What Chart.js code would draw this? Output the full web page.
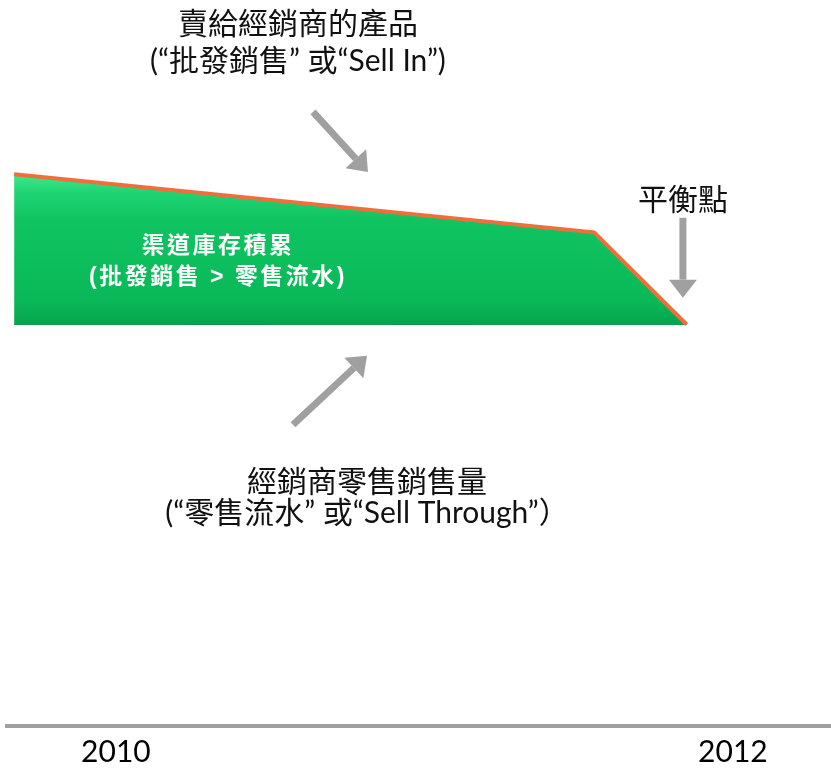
<!DOCTYPE html>
<html lang="zh-Hant">
<head>
  <meta charset="UTF-8">
  <title>渠道庫存積累</title>
  <script src="https://cdn.jsdelivr.net/npm/chart.js"></script>
  <style>
    body { margin: 0; background: #fff; }
    #wrap { width: 831px; height: 770px; position: relative; }
  </style>
</head>
<body>
  <div id="wrap"><canvas id="inventoryChart"></canvas></div>

  <script>
    // 時間軸 (年) と各系列の値
    const periods = [2009.67, 2011.55, 2011.85];
    const sellIn = [76.0, 68.0, 55.3];        // 批發銷售 (Sell In)
    const sellThrough = [55.3, 55.3, 55.3];   // 零售流水 (Sell Through)
    const tickValues = [2010, 2012];
    const tickLabels = ['2010', '2012'];

    const CJK = "'Noto Sans CJK TC', 'Noto Sans CJK JP', sans-serif";
    const LATIN_CJK = "Lato, 'Noto Sans CJK TC', sans-serif";
    const BOLD_CJK = "'Liberation Sans', 'Noto Sans CJK TC', sans-serif";

    // 注釈 (データ座標)
    const arrows = [
      { from: [2010.639, 84.6], to: [2010.817, 76.3] },
      { from: [2010.574, 41.5], to: [2010.814, 51.0] },
      { from: [2011.838, 70.0], to: [2011.838, 59.0] }
    ];
    const notes = [
      { at: [2010.590, 96.6], lines: ['賣給經銷商的產品', '(“批發銷售” 或“Sell In”)'], gap: 37, color: '#111', font: '30px ' + LATIN_CJK },
      { at: [2010.814, 33.5], lines: ['經銷商零售銷售量', '(“零售流水” 或“Sell Through”）'], gap: 31, color: '#111', font: '30px ' + LATIN_CJK },
      { at: [2011.838, 72.7], lines: ['平衡點'], gap: 0, color: '#111', font: '30px ' + CJK },
      { at: [2010.331, 66.0], lines: ['渠道庫存積累', '(批發銷售 > 零售流水)'], gap: 31, color: '#fff', font: 'bold 23px ' + BOLD_CJK, spacing: '2.5px' }
    ];

    // 矢印と文字を描くプラグイン
    const notePlugin = {
      id: 'notes',
      afterDatasetsDraw(chart) {
        const { ctx, scales: { x, y } } = chart;
        ctx.save();
        arrows.forEach(a => {
          const x1 = x.getPixelForValue(a.from[0]), y1 = y.getPixelForValue(a.from[1]);
          const x2 = x.getPixelForValue(a.to[0]), y2 = y.getPixelForValue(a.to[1]);
          const ang = Math.atan2(y2 - y1, x2 - x1);
          const headLen = 18, headW = 14;
          const bx = x2 - headLen * Math.cos(ang), by = y2 - headLen * Math.sin(ang);
          ctx.strokeStyle = '#a0a0a0';
          ctx.fillStyle = '#a0a0a0';
          ctx.lineWidth = 7;
          ctx.beginPath();
          ctx.moveTo(x1, y1);
          ctx.lineTo(bx, by);
          ctx.stroke();
          ctx.beginPath();
          ctx.moveTo(x2, y2);
          ctx.lineTo(bx + headW * Math.sin(ang), by - headW * Math.cos(ang));
          ctx.lineTo(bx - headW * Math.sin(ang), by + headW * Math.cos(ang));
          ctx.closePath();
          ctx.fill();
        });
        notes.forEach(n => {
          const cx = x.getPixelForValue(n.at[0]);
          const cy = y.getPixelForValue(n.at[1]);
          ctx.font = n.font;
          ctx.fillStyle = n.color;
          ctx.textAlign = 'center';
          ctx.textBaseline = 'middle';
          ctx.letterSpacing = n.spacing || '0px';
          n.lines.forEach((line, i) => ctx.fillText(line, cx, cy + i * n.gap));
        });
        ctx.restore();
      }
    };

    function greenFill(context) {
      const chart = context.chart;
      if (!chart.chartArea) return '#0cbb5a';
      const yS = chart.scales.y;
      const top = yS.getPixelForValue(Math.max(...sellIn));
      const bottom = yS.getPixelForValue(sellThrough[0]);
      const g = chart.ctx.createLinearGradient(0, top, 0, bottom);
      g.addColorStop(0, '#3de88c');
      g.addColorStop(0.12, '#1fd472');
      g.addColorStop(0.3, '#10c462');
      g.addColorStop(0.85, '#0ab858');
      g.addColorStop(1, '#07a24c');
      return g;
    }

    const ctx = document.getElementById('inventoryChart').getContext('2d');
    new Chart(ctx, {
      type: 'line',
      data: {
        datasets: [
          {
            label: '批發銷售',
            data: periods.map((p, i) => ({ x: p, y: sellIn[i] })),
            borderColor: '#ef6f3c',
            borderWidth: 4,
            backgroundColor: greenFill,
            fill: '+1',
            pointRadius: 0,
            tension: 0
          },
          {
            label: '零售流水',
            data: periods.map((p, i) => ({ x: p, y: sellThrough[i] })),
            borderColor: '#079a47',
            borderWidth: 1,
            pointRadius: 0,
            fill: false,
            tension: 0
          }
        ]
      },
      options: {
        responsive: true,
        maintainAspectRatio: false,
        animation: false,
        layout: { padding: { left: 7, right: 0, top: 0, bottom: -8 } },
        plugins: {
          legend: { display: false },
          tooltip: { enabled: false }
        },
        scales: {
          x: {
            type: 'linear',
            min: 2009.647,
            max: 2012.318,
            afterBuildTicks: scale => { scale.ticks = tickValues.map(v => ({ value: v })); },
            ticks: {
              autoSkip: false,
              maxRotation: 0,
              padding: 8,
              color: '#000',
              font: { family: 'Lato', size: 30 },
              callback: v => tickLabels[tickValues.indexOf(v)]
            },
            grid: { display: false, drawTicks: false },
            border: { display: true, color: '#a0a0a0', width: 4 }
          },
          y: {
            display: false,
            min: 0,
            max: 100
          }
        }
      },
      plugins: [notePlugin]
    });
  </script>
</body>
</html>
